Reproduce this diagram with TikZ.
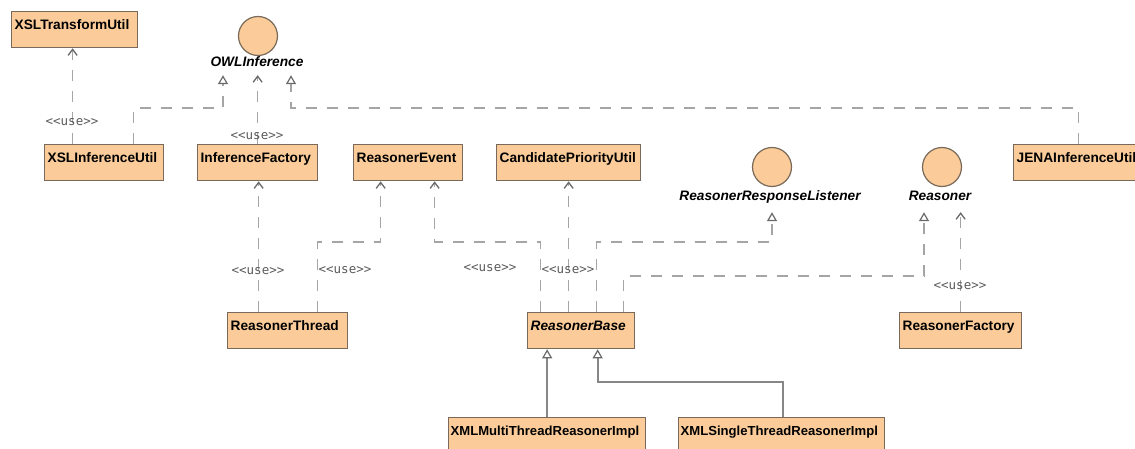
\documentclass[tikz,border=0pt]{standalone}
\usepackage{fontspec}
\setmainfont{Liberation Sans}
\newfontfamily\labelfont{DejaVu Sans Mono}
\usetikzlibrary{arrows.meta}
\definecolor{clsfill}{RGB}{251,204,153}
\definecolor{clsdraw}{RGB}{120,105,90}
\definecolor{linegray}{RGB}{165,165,165}
\definecolor{solidgray}{RGB}{135,135,135}
\definecolor{tipgray}{RGB}{105,105,105}
\definecolor{usegray}{RGB}{90,90,90}

\begin{document}
\begin{tikzpicture}[x=1pt,y=-1pt,
  cls/.style={draw=clsdraw, line width=1.3pt, fill=clsfill, inner xsep=3pt, inner ysep=0pt,
    text height=17.5pt, text depth=18.5pt, anchor=north west, align=left,
    font=\fontsize{13.7}{14}\selectfont\bfseries},
  abstractcls/.style={cls, font=\fontsize{13.7}{14}\selectfont\bfseries\itshape},
  implcls/.style={cls, inner xsep=2pt, text depth=30pt, font=\fontsize{13.1}{14}\selectfont\bfseries},
  iface/.style={circle, draw=clsdraw, line width=1.2pt, fill=clsfill, minimum size=39pt, inner sep=0pt},
  ifacename/.style={inner sep=0pt, text height=10pt, text depth=3pt, anchor=base,
    font=\fontsize{13.7}{14}\selectfont\bfseries\itshape},
  usel/.style={inner sep=0pt, text=usegray, font=\labelfont\fontsize{12.5}{13}\selectfont},
  dep/.style={draw=linegray, line width=1.6pt, dash pattern=on 11pt off 10pt,
    -{Straight Barb[length=6pt,width=9pt,line width=1.3pt,color=tipgray]}},
  real/.style={draw=linegray, line width=1.6pt, dash pattern=on 11pt off 10pt,
    -{Triangle[length=9pt,width=10pt,line width=1.2pt,color=tipgray,fill=white]}},
  general/.style={draw=solidgray, line width=1.8pt,
    -{Triangle[length=9pt,width=10pt,line width=1.2pt,color=tipgray,fill=white]}}
]
\useasboundingbox (0,0) rectangle (1135,449);
\clip (0,0) rectangle (1135,449);
\fill[white] (0,0) rectangle (1135,449);

% classes
\node[cls, text width=120pt] (xslt)   at (11,11)   {XSLTransformUtil};
\node[cls, text width=113pt] (xslinf) at (44,144)  {XSLInferenceUtil};
\node[cls, text width=114pt] (inffac) at (197,144) {InferenceFactory};
\node[cls, text width=103pt] (revent) at (353,144) {ReasonerEvent};
\node[cls, text width=138pt] (cpu)    at (496,144) {CandidatePriorityUtil};
\node[cls, text width=124pt] (jena)   at (1013,144) {JENAInferenceUtil};
\node[cls, text width=114pt] (rthread) at (227,312) {ReasonerThread};
\node[abstractcls, text width=101pt] (rbase) at (527,312) {ReasonerBase};
\node[cls, text width=116pt] (rfac)   at (899,312) {ReasonerFactory};
\node[implcls, text width=193pt] (multi)  at (448,417) {XMLMultiThreadReasonerImpl};
\node[implcls, text width=202pt] (single) at (678,417) {XMLSingleThreadReasonerImpl};

% interfaces
\node[iface] (owl) at (258,36) {};
\node[ifacename] (owlname) at (257,67) {OWLInference};
\node[iface] (rrl) at (772,167) {};
\node[ifacename] (rrlname) at (770,201) {ReasonerResponseListener};
\node[iface] (rsn) at (942,167) {};
\node[ifacename] (rsnname) at (940,201) {Reasoner};

% dependencies
\draw[dep] ([xshift=-31.5pt]xslinf.north) -- ([xshift=-31.5pt]xslinf.north |- xslt.south);
\draw[dep] (inffac.north) -- ([yshift=-5pt]owlname.south -| inffac.north);
\draw[dep] ([xshift=-29pt]rthread.north) -- ([xshift=-29pt]rthread.north |- inffac.south);
\draw[dep] ([xshift=30pt]rthread.north) -- ++(0,-70) -| ([xshift=-27.5pt]revent.south);
\draw[dep] ([xshift=-40.5pt]rbase.north) -- ++(0,-70) -| ([xshift=26.5pt]revent.south);
\draw[dep] ([xshift=-12.5pt]rbase.north) -- ([xshift=-12.5pt]rbase.north |- cpu.south);
\draw[dep] (rfac.north) -- ([yshift=-8pt]rsnname.south -| rfac.north);

% realizations
\draw[real] ([xshift=29.5pt]xslinf.north) -- ++(0,-36) -| ([xshift=-34pt,yshift=-5pt]owlname.south);
\draw[real] (jena.north) -- ++(0,-36) -| ([xshift=34pt,yshift=-5pt]owlname.south);
\draw[real] ([xshift=15.5pt]rbase.north) -- ++(0,-70) -| ([xshift=2pt,yshift=-8pt]rrlname.south);
\draw[real] ([xshift=42.5pt]rbase.north) -- ++(0,-36) -| ([xshift=-16pt,yshift=-8pt]rsnname.south);

% generalizations
\draw[general] (multi.north) -- (multi.north |- rbase.south);
\draw[general] ([xshift=1pt]single.north) -- ++(0,-35) -| ([xshift=16.5pt]rbase.south);

% stereotype labels
\node[usel] (u1) at (72,122)  {<<use>>};
\node[usel] (u2) at (257,136) {<<use>>};
\node[usel] (u3) at (258,271) {<<use>>};
\node[usel] (u4) at (345,270) {<<use>>};
\node[usel] (u5) at (490,268) {<<use>>};
\node[usel] (u6) at (568,270) {<<use>>};
\node[usel] (u7) at (960,286) {<<use>>};
\end{tikzpicture}
\end{document}
